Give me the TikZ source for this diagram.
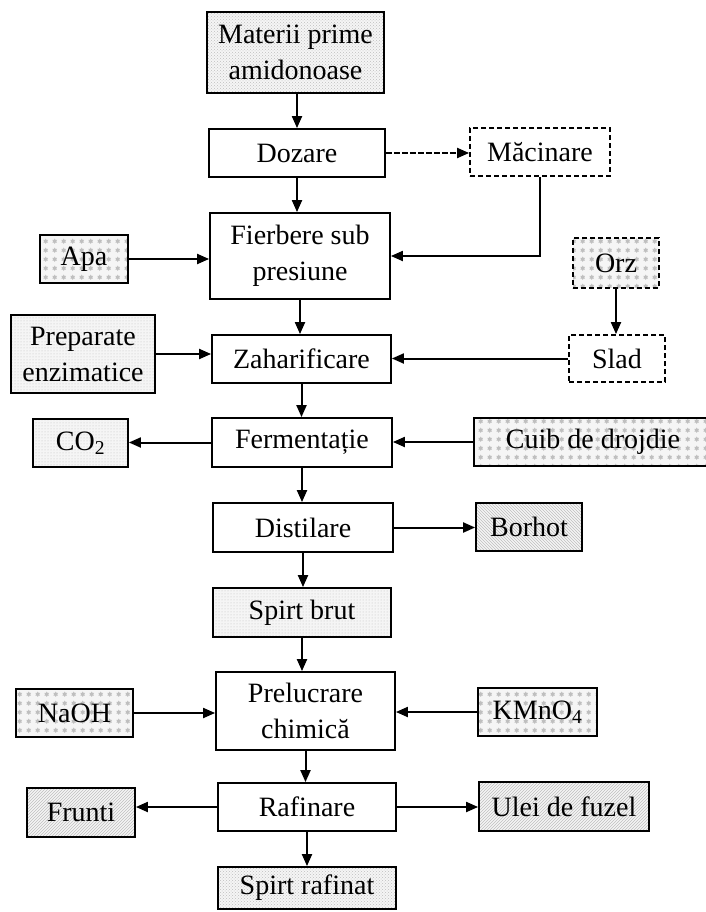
\documentclass[tikz,border=0pt]{standalone}
\usepackage{fontspec}
\setmainfont{Liberation Serif}
\usetikzlibrary{arrows.meta,patterns}
\begin{document}
\begin{tikzpicture}[x=1pt,y=-1pt,
  every node/.style={font=\fontsize{28}{36}\selectfont, align=center, inner sep=0pt},
  box/.style={draw, line width=1.8pt, rectangle},
  dbox/.style={box, dash pattern=on 5pt off 3pt},
  sz/.style 2 args={minimum width=#1, minimum height=#2},
  tex/.style={preaction={fill=gray!8}, pattern=#1, pattern color=gray!50},
  arr/.style={line width=2pt, -{Triangle[length=12pt,width=10pt]}},
  darr/.style={arr, dash pattern=on 6pt off 2pt},
]
\useasboundingbox (0,0) rectangle (706,912);

% central column
\node[box, sz={177}{81}, tex=crosshatch dots] (materii) at (295.5,52.5) {Materii prime\\amidonoase};
\node[box, sz={176}{48}] (dozare) at (297,153) {Dozare};
\node[box, sz={180}{86}] (fierbere) at (300,256) {Fierbere sub\\presiune};
\node[box, sz={179}{48}] (zahar) at (301.5,359) {Zaharificare};
\node[box, sz={180}{49}] (ferm) at (302,442.5) {Fermentație};
\node[box, sz={180}{49}] (dist) at (303,527.5) {Distilare};
\node[box, sz={178}{49}, tex=dots] (brut) at (302,612.5) {Spirt brut};
\node[box, sz={179}{78}] (prel) at (305.5,711) {Prelucrare\\chimică};
\node[box, sz={178}{48}] (raf) at (307,807) {Rafinare};
\node[box, sz={178}{42}, tex=crosshatch dots] (rafinat) at (307,888) {Spirt rafinat};

% right side
\node[dbox, sz={140}{48}] (macinare) at (540,152) {Măcinare};
\node[dbox, sz={86}{50}, tex=sixpointed stars] (orz) at (616,263) {Orz};
\node[dbox, sz={96}{47}] (slad) at (617,358.5) {Slad};
\node[box, sz={238}{48}, tex=sixpointed stars] (cuib) at (593,442) {Cuib de drojdie};
\node[box, sz={106}{48}, tex=north west lines] (borhot) at (529,527) {Borhot};
\node[box, sz={119}{48}, tex=sixpointed stars] (kmno) at (537.5,712) {KMnO\textsubscript{4}};
\node[box, sz={170}{49}, tex=north east lines] (ulei) at (564,806.5) {Ulei de fuzel};

% left side
\node[box, sz={88}{48}, tex=sixpointed stars] (apa) at (84,259) {Apa};
\node[box, sz={144}{78}, tex=dots] (prep) at (83,354) {Preparate\\enzimatice};
\node[box, sz={95}{48}, tex=dots] (co2) at (80.5,443) {CO\textsubscript{2}};
\node[box, sz={117}{48}, tex=sixpointed stars] (naoh) at (74.5,713) {NaOH};
\node[box, sz={108}{49}, tex=north east lines] (frunti) at (81,812.5) {Frunti};

% central arrows
\draw[arr] (materii.south -| dozare.north) -- (dozare.north);
\draw[arr] (dozare.south) -- (dozare.south |- fierbere.north);
\draw[arr] (fierbere.south) -- (fierbere.south |- zahar.north);
\draw[arr] (zahar.south) -- (zahar.south |- ferm.north);
\draw[arr] (ferm.south) -- (ferm.south |- dist.north);
\draw[arr] (dist.south) -- (dist.south |- brut.north);
\draw[arr] (brut.south) -- (brut.south |- prel.north);
\draw[arr] (prel.south) -- (prel.south |- raf.north);
\draw[arr] (raf.south) -- (raf.south |- rafinat.north);

% side arrows
\draw[darr] (dozare.east) -- (dozare.east -| macinare.west);
\draw[arr] (macinare.south) |- (fierbere.east);
\draw[arr] (apa.east) -- (apa.east -| fierbere.west);
\draw[arr] (orz.south) -- (orz.south |- slad.north);
\draw[arr] (slad.west) -- (slad.west -| zahar.east);
\draw[arr] (prep.east) -- (prep.east -| zahar.west);
\draw[arr] (ferm.west) -- (ferm.west -| co2.east);
\draw[arr] (cuib.west) -- (cuib.west -| ferm.east);
\draw[arr] (dist.east) -- (dist.east -| borhot.west);
\draw[arr] (naoh.east) -- (naoh.east -| prel.west);
\draw[arr] (kmno.west) -- (kmno.west -| prel.east);
\draw[arr] (raf.west) -- (raf.west -| frunti.east);
\draw[arr] (raf.east) -- (raf.east -| ulei.west);
\end{tikzpicture}
\end{document}
